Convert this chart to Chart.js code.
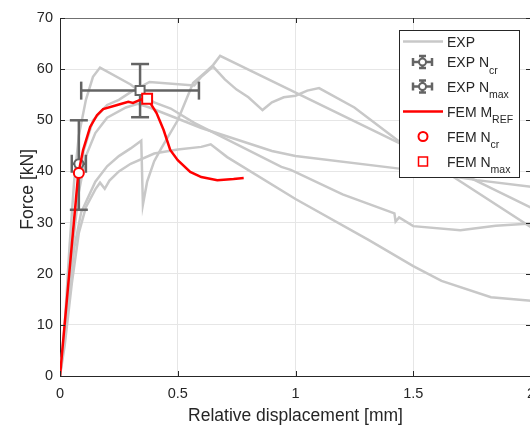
<!DOCTYPE html>
<html><head><meta charset="utf-8">
<script src="https://cdn.jsdelivr.net/npm/chart.js@4"></script>
<style>html,body{margin:0;padding:0;overflow:hidden;background:#fff}canvas{display:block}</style>
</head><body><canvas id="c" width="600" height="427"></canvas>
<script>
// ---- data ----
const xTicks = [0, 0.5, 1, 1.5, 2];
const yTicks = [0, 10, 20, 30, 40, 50, 60, 70];
const xTickLabels = ['0', '0.5', '1', '1.5', '2'];

const expA = [[0,0],[0.02,10],[0.04,25],[0.06,38],[0.08,47],[0.11,54],[0.14,58.5],[0.17,60.3],[0.3,57],[0.4,53.5],[0.47,52.3],[0.57,49.5],[0.94,40.9],[0.98,40.3],[1.2,35.5],[1.42,31.8],[1.425,30.2],[1.44,31],[1.5,29.3],[1.7,28.5],[1.85,29.4],[2,29.8]];
const expB = [[0,0],[0.025,10],[0.05,24],[0.08,36],[0.11,43],[0.15,47.5],[0.2,50.5],[0.28,52.5],[0.33,53.2],[0.38,52.5],[0.6,48.5],[0.9,44],[1.0,43],[1.45,40.5],[1.77,38.3],[2,37]];
const expC = [[0,0],[0.02,8],[0.05,25],[0.08,38],[0.1,44],[0.14,50],[0.2,53],[0.25,54],[0.3,55.5],[0.38,57.5],[0.57,56.8],[0.6,58.5],[0.65,60.5],[0.7,58],[0.75,56],[0.8,54.5],[0.86,52],[0.9,53.5],[0.95,54.5],[1.0,54.8],[1.05,55.8],[1.1,56.3],[1.25,52.5],[1.45,45.5],[2,29.1]];
const expD = [[0,0],[0.03,12],[0.06,25],[0.09,32],[0.12,35],[0.15,38],[0.2,41],[0.25,43],[0.3,44.5],[0.345,46],[0.352,33.5],[0.37,38],[0.4,42],[0.43,44.5],[0.5,50],[0.565,57.3],[0.62,59.5],[0.65,60.8],[0.68,62.6],[1.43,45.8],[2,32.9]];
const expE = [[0,0],[0.02,6],[0.05,18],[0.08,28],[0.11,33],[0.15,36.5],[0.17,37.8],[0.19,36.6],[0.21,38.2],[0.25,40],[0.3,41.5],[0.4,43.5],[0.5,44.3],[0.6,44.8],[0.64,45.3],[0.71,42.8],[1.0,34.6],[1.31,26.6],[1.5,21.5],[1.62,18.6],[1.83,15.4],[2,14.7]];

const femRef = [[0,0],[0.077,39.3],[0.098,44.2],[0.128,48.7],[0.157,51],[0.183,52.2],[0.243,53],[0.29,53.6],[0.31,53.4],[0.34,54],[0.37,54.4],[0.383,53.4],[0.41,51.4],[0.44,48.1],[0.468,44.2],[0.5,42.2],[0.553,39.9],[0.6,38.9],[0.668,38.3],[0.737,38.5],[0.78,38.7]];

const expNcr = [0.08, 41.5];
const expNcrXRange = [0.05, 0.11];
const expNcrYRange = [32.5, 50];
const expNmax = [0.34, 55.8];
const expNmaxXRange = [0.09, 0.59];
const expNmaxYRange = [50.6, 61.0];
const femNcr = [0.08, 39.7];
const femNmax = [0.37, 54.2];

const legendLabels = [['EXP',''],['EXP N','cr'],['EXP N','max'],['FEM M','REF'],['FEM N','cr'],['FEM N','max']];

// ---- chart ----
const FONT = "'Liberation Sans', Arial, Helvetica, sans-serif";
const TXT = '#262626';
const GRAY = '#c8c8c8';
const DARK = '#646464';
const RED = '#ff0000';
const pts = a => a.map(p => ({x: p[0], y: p[1]}));

function line(ctx, x1, y1, x2, y2) { ctx.beginPath(); ctx.moveTo(x1, y1); ctx.lineTo(x2, y2); ctx.stroke(); }

function drawErr(ctx, xs, ys, pt, xr, yr, shape) {
  const px = xs.getPixelForValue(pt[0]), py = ys.getPixelForValue(pt[1]);
  const xl = xs.getPixelForValue(xr[0]), xh = xs.getPixelForValue(xr[1]);
  const yl = ys.getPixelForValue(yr[0]), yh = ys.getPixelForValue(yr[1]);
  ctx.save();
  ctx.strokeStyle = DARK; ctx.lineWidth = 2.5; ctx.lineCap = 'butt';
  line(ctx, px, yh, px, yl);
  line(ctx, px - 9, yh, px + 9, yh);
  line(ctx, px - 9, yl, px + 9, yl);
  line(ctx, xl, py, xh, py);
  line(ctx, xl, py - 9, xl, py + 9);
  line(ctx, xh, py - 9, xh, py + 9);
  ctx.fillStyle = '#fff'; ctx.lineWidth = 2;
  ctx.beginPath();
  if (shape === 'rect') ctx.rect(px - 4.5, py - 4.5, 9, 9); else ctx.arc(px, py, 4.5, 0, Math.PI * 2);
  ctx.fill(); ctx.stroke();
  ctx.restore();
}

const overlay = {
  id: 'overlay',
  beforeDatasetDraw(chart, args) {
    if (args.meta.label !== 'FEM MREF') return;
    const ctx = chart.ctx, xs = chart.scales.x, ys = chart.scales.y;
    drawErr(ctx, xs, ys, expNcr, expNcrXRange, expNcrYRange, 'circle');
    drawErr(ctx, xs, ys, expNmax, expNmaxXRange, expNmaxYRange, 'rect');
  },
  afterDatasetsDraw(chart) {
    const ctx = chart.ctx, xs = chart.scales.x, ys = chart.scales.y;
    const a = chart.chartArea;
    ctx.save();
    // box and inward ticks
    ctx.strokeStyle = '#707070'; ctx.lineWidth = 1;
    line(ctx, a.left, a.top + 0.5, a.right, a.top + 0.5);
    line(ctx, a.right - 0.5, a.top, a.right - 0.5, a.bottom);
    ctx.strokeStyle = TXT;
    yTicks.forEach(v => {
      const y = Math.round(ys.getPixelForValue(v)) + 0.5;
      line(ctx, a.left, y, a.left + 5, y);
      line(ctx, a.right, y, a.right - 5, y);
    });
    xTicks.forEach(v => {
      const x = Math.round(xs.getPixelForValue(v)) + 0.5;
      line(ctx, x, a.bottom, x, a.bottom - 5);
      line(ctx, x, a.top, x, a.top + 5);
    });
    // axis titles
    ctx.fillStyle = TXT;
    ctx.font = '17.5px ' + FONT;
    ctx.textAlign = 'center'; ctx.textBaseline = 'alphabetic';
    ctx.fillText('Relative displacement [mm]', xs.getPixelForValue(1), 421);
    ctx.save();
    ctx.translate(33, ys.getPixelForValue(36.5));
    ctx.rotate(-Math.PI / 2);
    ctx.fillText('Force [kN]', 0, 0);
    ctx.restore();
    // legend
    const L = 399, T = 30, R = 520, B = 178;
    ctx.fillStyle = '#fff';
    ctx.fillRect(L, T, R - L, B - T);
    ctx.strokeStyle = TXT; ctx.lineWidth = 1;
    ctx.strokeRect(L + 0.5, T + 0.5, R - L - 1, B - T - 1);
    const base = [46.5, 67, 91.5, 116.5, 141.5, 166.5];
    ctx.textAlign = 'left';
    legendLabels.forEach((lab, i) => {
      ctx.fillStyle = TXT;
      ctx.font = '14px ' + FONT;
      ctx.fillText(lab[0], 447, base[i]);
      if (lab[1]) {
        const w = ctx.measureText(lab[0]).width;
        ctx.font = '10.5px ' + FONT;
        ctx.fillText(lab[1], 447 + w, base[i] + 6.5);
      }
      const cy = base[i] - 5;
      if (i === 0) { ctx.strokeStyle = GRAY; ctx.lineWidth = 2.5; line(ctx, 403, cy, 443, cy); }
      if (i === 1 || i === 2) {
        ctx.strokeStyle = DARK; ctx.lineWidth = 2.5;
        line(ctx, 413, cy, 432, cy);
        line(ctx, 413, cy - 4, 413, cy + 4);
        line(ctx, 432, cy - 4, 432, cy + 4);
        line(ctx, 422.5, cy - 6, 422.5, cy + 6);
        line(ctx, 419, cy - 6, 426, cy - 6);
        line(ctx, 419, cy + 6, 426, cy + 6);
        ctx.fillStyle = '#fff'; ctx.lineWidth = 2;
        ctx.beginPath(); ctx.arc(422.5, cy, 3.5, 0, Math.PI * 2); ctx.fill(); ctx.stroke();
      }
      if (i === 3) { ctx.strokeStyle = RED; ctx.lineWidth = 2.5; line(ctx, 403, cy, 443, cy); }
      if (i === 4) { ctx.strokeStyle = RED; ctx.lineWidth = 2; ctx.fillStyle = '#fff'; ctx.beginPath(); ctx.arc(423, cy, 4.5, 0, Math.PI * 2); ctx.fill(); ctx.stroke(); }
      if (i === 5) { ctx.strokeStyle = RED; ctx.lineWidth = 1.5; ctx.fillStyle = '#fff'; ctx.beginPath(); ctx.rect(418.5, cy - 4.5, 9, 9); ctx.fill(); ctx.stroke(); }
    });
    ctx.restore();
  }
};

const expSets = [expA, expB, expC, expD, expE].map((e, i) => ({
  label: 'EXP' + i, data: pts(e), showLine: true, borderColor: GRAY, borderWidth: 2.5,
  pointRadius: 0, tension: 0, fill: false, order: 10 + i
}));

new Chart(document.getElementById('c'), {
  type: 'scatter',
  data: {
    datasets: [
      ...expSets,
      { label: 'FEM MREF', data: pts(femRef), showLine: true, borderColor: RED, borderWidth: 2.5, pointRadius: 0, tension: 0, fill: false, order: 2 },
      { label: 'FEM Ncr', data: pts([femNcr]), showLine: false, pointStyle: 'circle', pointRadius: 5, pointBorderWidth: 2, borderColor: RED, backgroundColor: '#fff', order: 1 },
      { label: 'FEM Nmax', data: pts([femNmax]), showLine: false, pointStyle: 'rect', pointRadius: 7, pointBorderWidth: 2, borderColor: RED, backgroundColor: '#fff', order: 0 }
    ]
  },
  options: {
    responsive: false, animation: false, devicePixelRatio: 1,
    layout: { padding: { left: 0, right: 69, top: 18, bottom: 0 } },
    plugins: { legend: { display: false }, tooltip: { enabled: false } },
    scales: {
      x: {
        type: 'linear', min: 0, max: 2,
        afterBuildTicks: s => { s.ticks = xTicks.map(v => ({ value: v })); },
        afterFit: s => { s.height = 51; },
        ticks: { callback: (v, i) => xTickLabels[i], color: TXT, font: { family: FONT, size: 14.5 }, padding: 9, maxRotation: 0 },
        grid: { color: '#e6e6e6', lineWidth: 1, drawTicks: false },
        border: { display: true, color: TXT, width: 1 }
      },
      y: {
        type: 'linear', min: 0, max: 70,
        afterBuildTicks: s => { s.ticks = yTicks.map(v => ({ value: v })); },
        afterFit: s => { s.width = 60; },
        ticks: { callback: v => String(v), color: TXT, font: { family: FONT, size: 14.5 }, padding: 7 },
        grid: { color: '#e6e6e6', lineWidth: 1, drawTicks: false },
        border: { display: true, color: TXT, width: 1 }
      }
    }
  },
  plugins: [overlay]
});
</script>
</body></html>
